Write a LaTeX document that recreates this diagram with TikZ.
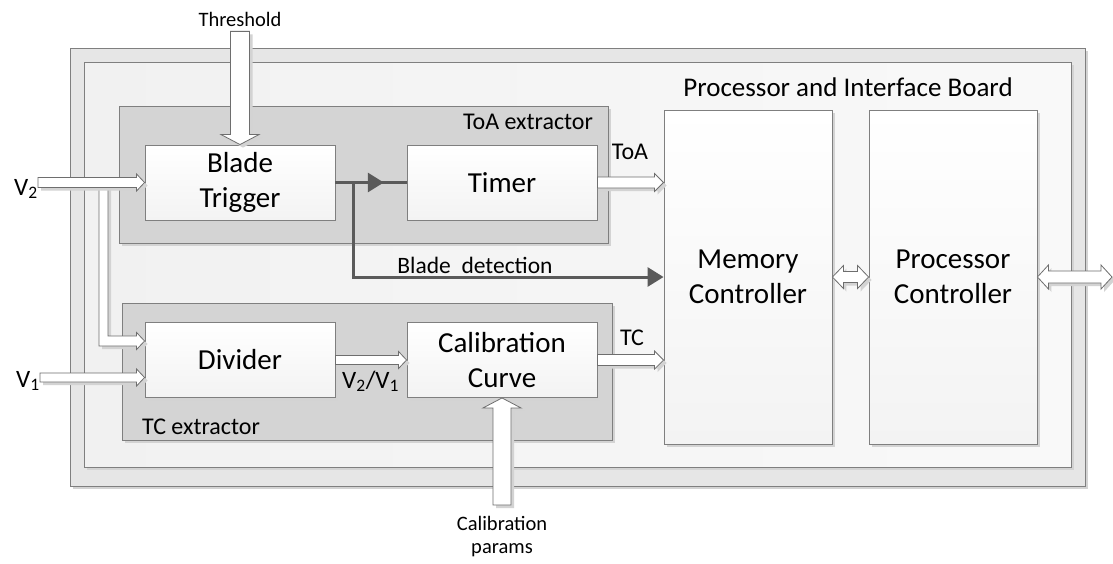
\documentclass[tikz,border=0pt]{standalone}
\usepackage{fontspec}
\setmainfont{Carlito}
\usetikzlibrary{calc,arrows.meta,decorations.markings}
\definecolor{band}{HTML}{E6E6E6}
\definecolor{innerL}{HTML}{F1F1F1}
\definecolor{innerR}{HTML}{F9F9F9}
\definecolor{extfill}{HTML}{D4D4D4}
\definecolor{bord}{HTML}{7F7F7F}
\definecolor{boxbot}{HTML}{F3F3F3}
\definecolor{shadowc}{HTML}{D3D3D3}
\definecolor{arrbord}{HTML}{6E6E6E}
\definecolor{darkc}{HTML}{5A5A5A}
\newcommand\fbig{\fontsize{29}{35}\selectfont}
\newcommand\fmid{\fontsize{24}{28}\selectfont}
\newcommand\fsml{\fontsize{20.5}{23.5}\selectfont}
\newcommand\arrR[5]{\filldraw[hollow] let \p1=(#1), \p2=(#2) in
  (\x1,{\y1+#3}) -- ({\x2-#5},{\y1+#3}) -- ({\x2-#5},{\y1+#4}) -- (\x2,\y1) --
  ({\x2-#5},{\y1-#4}) -- ({\x2-#5},{\y1-#3}) -- (\x1,{\y1-#3}) -- cycle;}
\newcommand\arrLR[5]{\filldraw[hollow] let \p1=(#1), \p2=(#2) in
  (\x1,\y1) -- ({\x1+#5},{\y1+#4}) -- ({\x1+#5},{\y1+#3}) -- ({\x2-#5},{\y1+#3}) --
  ({\x2-#5},{\y1+#4}) -- (\x2,\y1) -- ({\x2-#5},{\y1-#4}) -- ({\x2-#5},{\y1-#3}) --
  ({\x1+#5},{\y1-#3}) -- ({\x1+#5},{\y1-#4}) -- cycle;}
\newcommand\arrD[5]{\filldraw[hollow] let \p1=(#1), \p2=(#2) in
  ({\x1-#3},\y1) -- ({\x1-#3},{\y2+#5}) -- ({\x1-#4},{\y2+#5}) -- (\x1,\y2) --
  ({\x1+#4},{\y2+#5}) -- ({\x1+#3},{\y2+#5}) -- ({\x1+#3},\y1) -- cycle;}
\newcommand\arrU[5]{\filldraw[hollow] let \p1=(#1), \p2=(#2) in
  ({\x1-#3},\y1) -- ({\x1-#3},{\y2-#5}) -- ({\x1-#4},{\y2-#5}) -- (\x1,\y2) --
  ({\x1+#4},{\y2-#5}) -- ({\x1+#3},{\y2-#5}) -- ({\x1+#3},\y1) -- cycle;}
\begin{document}
\begin{tikzpicture}[x=1pt,y=-1pt,
  shad/.style={preaction={fill=shadowc, draw=none, transform canvas={xshift=3pt,yshift=-3pt}}},
  frame/.style={draw=bord, line width=0.9pt},
  ext/.style={draw=bord, line width=0.9pt, fill=extfill, shad, inner sep=0pt},
  box/.style={draw=bord, line width=0.9pt, top color=white, bottom color=boxbot, shad,
    minimum width=190pt, minimum height=75pt, align=center, font=\fbig, inner sep=0pt},
  tall/.style={box, minimum width=168pt, minimum height=334pt},
  hollow/.style={fill=white, draw=arrbord, line width=0.8pt, line join=miter, shad},
  darkline/.style={draw=darkc, line width=3pt},
  lbl/.style={inner sep=0pt, font=\fmid},
  sml/.style={inner sep=0pt, font=\fsml, align=center}
]
\useasboundingbox (0,0) rectangle (1113,563);
\fill[white] (0,0) rectangle (1113,563);
% frames
\draw[frame, fill=band, shad] (70,48) rectangle (1085,486);
\draw[frame, left color=innerL, right color=innerR, shad] (84,62) rectangle (1071,467);
\node[lbl, anchor=base, font=\fontsize{27}{31}\selectfont] (pib) at (848,96) {Processor and Interface Board};
% extractors
\node[ext, minimum width=489pt, minimum height=137pt] (toab) at (363.5,174.5) {};
\node[ext, minimum width=490pt, minimum height=137pt] (tcb) at (367,371.5) {};
\node[lbl, anchor=base] (toal) at (528,129) {ToA extractor};
\node[lbl, anchor=base] (tcl) at (201,434) {TC extractor};
% boxes
\node[box] (blade) at (240,182.5) {Blade\\Trigger};
\node[box] (timer) at (502,182.5) {Timer};
\node[box] (div) at (240,360) {Divider};
\node[box] (calib) at (502,360) {Calibration\\Curve};
\node[tall] (mem) at (748,277) {Memory\\Controller};
\node[tall] (proc) at (953,277) {Processor\\Controller};
% labels
\node[lbl, anchor=base east, font=\fontsize{25}{30}\selectfont] (v2) at (38,195) {V\textsubscript{2}};
\node[lbl, anchor=base east, font=\fontsize{25}{30}\selectfont] (v1) at (40,387) {V\textsubscript{1}};
\node[sml, anchor=base] (thr) at (240,26) {Threshold};
\node[sml, anchor=north] (cal) at (502,516) {Calibration\\params};
\node[lbl, anchor=base] (toa) at (630,159) {ToA};
\node[lbl, anchor=base] (tc) at (632,345) {TC};
\node[lbl, anchor=base west, font=\fontsize{25}{30}\selectfont] (ratio) at (342,388) {V\textsubscript{2}/V\textsubscript{1}};
\node[lbl, anchor=base, font=\fontsize{23.5}{28}\selectfont] (bdl) at (475,273) {Blade\ \ detection};
% coordinates
\coordinate (brtop) at (103.5,183);
\coordinate (d2) at ([yshift=19pt]div.west);
\coordinate (d1) at ([yshift=-17.5pt]div.west);
\coordinate (outR) at (1112,277);
\coordinate (bd) at ($(blade.east)!0.25!(timer.west)$);
% hollow arrows
\filldraw[hollow] let \p1=(brtop), \p2=(d2) in
  ({\x1-4.5pt},\y1) -- ({\x1-4.5pt},{\y2-5pt}) -- ({\x2-8pt},{\y2-5pt}) -- ({\x2-8pt},{\y2-8.5pt}) --
  (\x2,\y2) -- ({\x2-8pt},{\y2+8.5pt}) -- ({\x2-8pt},{\y2+5pt}) -- ({\x1+4.5pt},{\y2+5pt}) --
  ({\x1+4.5pt},\y1) -- cycle;
\arrR{v2.east |- blade.west}{blade.west}{5pt}{8.5pt}{8pt}
\arrR{v1.east |- d1}{d1}{4.5pt}{8.5pt}{8pt}
\arrR{div.east}{calib.west}{4.5pt}{8.5pt}{8pt}
\arrR{timer.east}{timer.east -| mem.west}{5.5pt}{9pt}{9pt}
\arrR{calib.east}{calib.east -| mem.west}{5.5pt}{9pt}{9pt}
\arrLR{mem.east}{proc.west}{5.5pt}{11.5pt}{11pt}
\arrLR{proc.east}{outR}{6pt}{12pt}{11pt}
\arrD{[yshift=-5pt]thr.south}{thr.south |- blade.north}{9.5pt}{19pt}{10pt}
\arrU{[yshift=11pt]cal.north}{cal.north |- calib.south}{9pt}{19pt}{10pt}
% dark connectors
\draw[darkline, postaction={decorate}, decoration={markings,
  mark=at position 0.68 with {\arrow{Triangle[length=16pt,width=19pt]}}}] (blade.east) -- (timer.west);
\draw[darkline, -{Triangle[length=16pt,width=19pt]}] (bd) |- (mem.west);
\end{tikzpicture}
\end{document}
